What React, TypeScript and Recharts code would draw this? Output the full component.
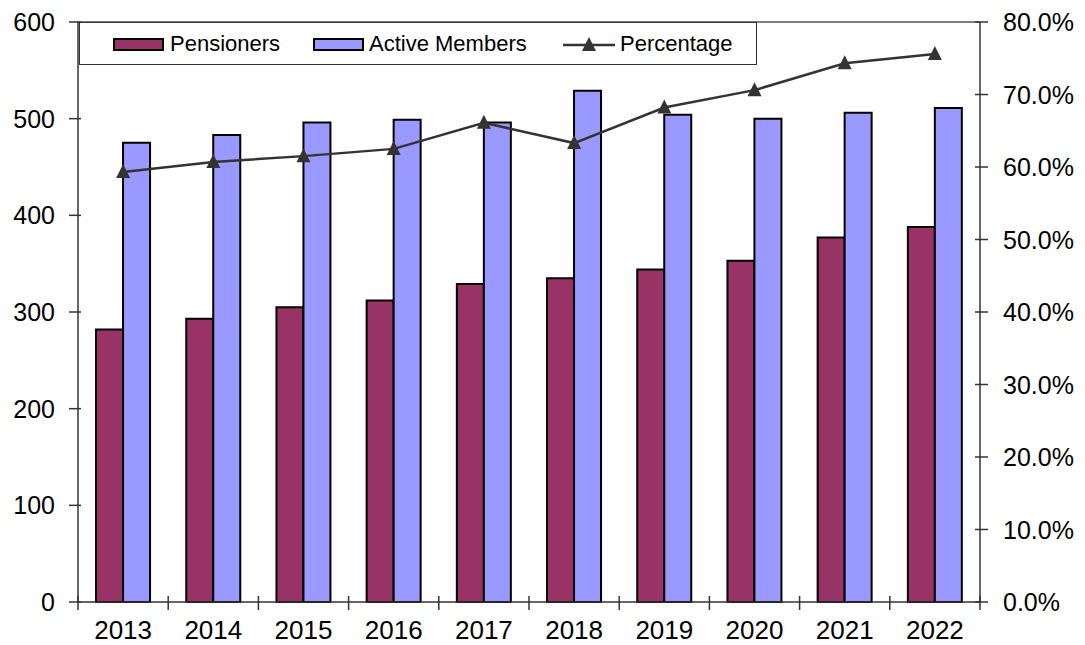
import { ComposedChart, Bar, Line, XAxis, YAxis, Legend, ReferenceLine } from 'recharts';

const years = ['2013', '2014', '2015', '2016', '2017', '2018', '2019', '2020', '2021', '2022'];
const pensioners = [282, 293, 305, 312, 329, 335, 344, 353, 377, 388];
const activeMembers = [475, 483, 496, 499, 496, 529, 504, 500, 506, 511];
const percentage = [59.3, 60.7, 61.5, 62.5, 66.1, 63.3, 68.2, 70.6, 74.3, 75.6];
const countTicks = [0, 100, 200, 300, 400, 500, 600];
const percentTicks = [0, 10, 20, 30, 40, 50, 60, 70, 80];

const data = years.map((year, i) => ({
  year,
  Pensioners: pensioners[i],
  'Active Members': activeMembers[i],
  Percentage: percentage[i],
}));

const WIDTH = 1085;
const HEIGHT = 645;
const LEFT_W = 78;
const RIGHT_W = 105;
const BAND = (WIDTH - LEFT_W - RIGHT_W) / years.length;
const FONT = '"Liberation Sans", Arial, sans-serif';
const AXIS = '#333333';

function LeftTick({ x, y, payload }: any) {
  return (
    <g>
      <line x1={x - 9} x2={x + 3} y1={y} y2={y} stroke={AXIS} strokeWidth={1.5} />
      <text x={x - 23} y={y + 9} textAnchor="end" fontSize={25} fontFamily={FONT} fill="#000">
        {payload.value}
      </text>
    </g>
  );
}

function RightTick({ x, y, payload }: any) {
  return (
    <g>
      <line x1={x - 5} x2={x + 8} y1={y} y2={y} stroke={AXIS} strokeWidth={1.5} />
      <text x={x + 23} y={y + 9} textAnchor="start" fontSize={25} fontFamily={FONT} fill="#000">
        {`${Number(payload.value).toFixed(1)}%`}
      </text>
    </g>
  );
}

function YearTick({ x, y, payload, index }: any) {
  const left = x - BAND / 2;
  const right = x + BAND / 2;
  return (
    <g>
      <line x1={left} x2={left} y1={y - 6} y2={y + 8} stroke={AXIS} strokeWidth={1.5} />
      {index === years.length - 1 && (
        <line x1={right} x2={right} y1={y - 6} y2={y + 8} stroke={AXIS} strokeWidth={1.5} />
      )}
      <text x={x} y={y + 37} textAnchor="middle" fontSize={26} fontFamily={FONT} fill="#000">
        {payload.value}
      </text>
    </g>
  );
}

function Triangle({ cx, cy }: any) {
  if (cx == null || cy == null) return null;
  return <polygon points={`${cx},${cy - 8} ${cx - 7},${cy + 6} ${cx + 7},${cy + 6}`} fill="#333" />;
}

function LegendBox() {
  const swatch = (fill: string, left: number) => (
    <div
      style={{
        position: 'absolute',
        left,
        top: 15,
        width: 47,
        height: 9,
        background: fill,
        border: '2px solid #000',
      }}
    />
  );
  const label = (text: string, left: number) => (
    <div style={{ position: 'absolute', left, top: 8, fontSize: 22, lineHeight: '26px', color: '#000' }}>
      {text}
    </div>
  );
  return (
    <div
      style={{
        position: 'relative',
        width: 678,
        height: 43,
        background: '#fff',
        border: '1px solid #333',
        boxSizing: 'border-box',
        fontFamily: FONT,
      }}
    >
      {swatch('#993366', 33)}
      {label('Pensioners', 90)}
      {swatch('#9999FF', 233)}
      {label('Active Members', 289)}
      <svg style={{ position: 'absolute', left: 483, top: 10 }} width={52} height={24}>
        <line x1={0} x2={52} y1={12} y2={12} stroke="#333" strokeWidth={2.5} />
        <polygon points="26,4 19,18 33,18" fill="#333" />
      </svg>
      {label('Percentage', 540)}
    </div>
  );
}

export default function App() {
  return (
    <div style={{ position: 'absolute', left: 0, top: 0, width: WIDTH, height: HEIGHT, background: '#fff' }}>
      <ComposedChart
        width={WIDTH}
        height={HEIGHT}
        data={data}
        margin={{ top: 22, right: 0, bottom: 0, left: 0 }}
        barCategoryGap="20%"
        barGap={0}
      >
        <XAxis
          dataKey="year"
          height={HEIGHT - 602}
          interval={0}
          tickSize={0}
          tickMargin={0}
          tickLine={false}
          axisLine={{ stroke: AXIS, strokeWidth: 1.5 }}
          tick={<YearTick />}
        />
        <YAxis
          yAxisId="left"
          width={LEFT_W}
          domain={[0, 600]}
          ticks={countTicks}
          interval={0}
          tickSize={0}
          tickMargin={0}
          tickLine={false}
          axisLine={{ stroke: AXIS, strokeWidth: 1.5 }}
          tick={<LeftTick />}
        />
        <YAxis
          yAxisId="right"
          orientation="right"
          width={RIGHT_W}
          domain={[0, 80]}
          ticks={percentTicks}
          interval={0}
          tickSize={0}
          tickMargin={0}
          tickLine={false}
          axisLine={{ stroke: AXIS, strokeWidth: 1.5 }}
          tick={<RightTick />}
        />
        <ReferenceLine yAxisId="left" y={600} stroke="#7f7f7f" strokeWidth={2} />
        <Legend
          layout="horizontal"
          verticalAlign="middle"
          align="center"
          content={<LegendBox />}
          wrapperStyle={{ left: 79, top: 22, width: 678, height: 43 }}
        />
        <Bar
          yAxisId="left"
          dataKey="Pensioners"
          fill="#993366"
          stroke="#000"
          strokeWidth={2}
          isAnimationActive={false}
        />
        <Bar
          yAxisId="left"
          dataKey="Active Members"
          fill="#9999FF"
          stroke="#000"
          strokeWidth={2}
          isAnimationActive={false}
        />
        <Line
          yAxisId="right"
          dataKey="Percentage"
          stroke="#333"
          strokeWidth={2.5}
          dot={<Triangle />}
          activeDot={false}
          isAnimationActive={false}
        />
      </ComposedChart>
    </div>
  );
}
